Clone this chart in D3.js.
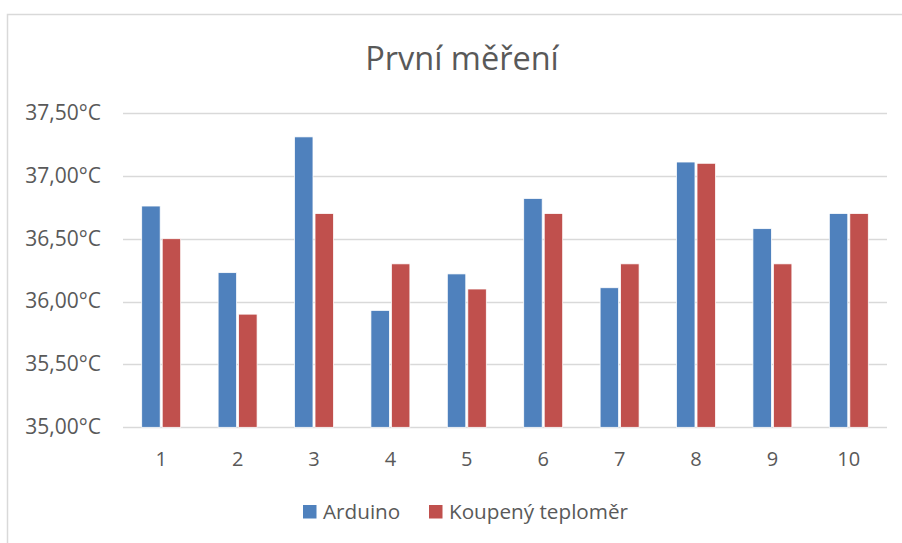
<!DOCTYPE html>
<html>
<head>
<meta charset="utf-8">
<script src="https://cdn.jsdelivr.net/npm/d3@7"></script>
<style>
  html, body { margin: 0; padding: 0; background: #fff; }
  svg { display: block; }
  text { font-family: "Open Sans", "Noto Sans", sans-serif; fill: #595959; }
</style>
</head>
<body>
<svg id="chart" width="902" height="543"></svg>
<script>
const categories = ["1","2","3","4","5","6","7","8","9","10"];
const seriesNames = ["Arduino", "Koupený teploměr"];
const arduino = [36.76, 36.23, 37.31, 35.93, 36.22, 36.82, 36.11, 37.11, 36.58, 36.70];
const koupeny = [36.50, 35.90, 36.70, 36.30, 36.10, 36.70, 36.30, 37.10, 36.30, 36.70];
const yTicks = [35.0, 35.5, 36.0, 36.5, 37.0, 37.5];
const colors = ["#4F81BD", "#C0504D"];
const title = "První měření";

const svg = d3.select("#chart");
const W = 902, H = 543;

// chart frame
svg.append("rect").attr("x", 7.5).attr("y", 14.5).attr("width", W + 10).attr("height", H + 10)
  .attr("fill", "none").attr("stroke", "#D9D9D9").attr("stroke-width", 1.5);

const plot = { left: 123, right: 887, top: 113, bottom: 427.3 };

const x = d3.scaleBand().domain(categories).range([plot.left, plot.right]);
const y = d3.scaleLinear().domain([35, 37.5]).range([plot.bottom, plot.top]);

const fmt = v => d3.format(".2f")(v).replace(".", ",") + "°C";

// gridlines
svg.append("g").selectAll("line").data(yTicks).join("line")
  .attr("x1", plot.left).attr("x2", plot.right)
  .attr("y1", d => Math.round(y(d)) + 0.5).attr("y2", d => Math.round(y(d)) + 0.5)
  .attr("stroke", "#D9D9D9").attr("stroke-width", 1.5);

// y axis labels
const yAxis = d3.axisLeft(y).tickValues(yTicks).tickFormat(fmt).tickSize(0).tickPadding(0);
const gy = svg.append("g").attr("transform", `translate(101,0)`).call(yAxis);
gy.select(".domain").remove();
gy.selectAll("text").style("font-size", "21px").attr("fill", "#595959")
  .style("font-family", '"Open Sans", sans-serif').attr("dy", "0.3em");

// x axis labels
const xAxis = d3.axisBottom(x).tickSize(0).tickPadding(0);
const gx = svg.append("g").attr("transform", `translate(0,${plot.bottom + 24})`).call(xAxis);
gx.select(".domain").remove();
gx.selectAll("text").style("font-size", "20px").attr("fill", "#595959")
  .style("font-family", '"Open Sans", sans-serif').attr("dy", "0.71em");

// bars
const data = categories.map((c, i) => ({ cat: c, vals: [arduino[i], koupeny[i]] }));
const bw = x.bandwidth();
const xSub = d3.scaleBand().domain([0, 1]).range([bw * 0.245, bw * 0.755]).paddingInner(0.1);

const groups = svg.append("g").selectAll("g").data(data).join("g")
  .attr("transform", d => `translate(${x(d.cat)},0)`);
groups.selectAll("rect").data(d => d.vals.map((v, k) => ({ v, k }))).join("rect")
  .attr("x", d => xSub(d.k))
  .attr("width", xSub.bandwidth())
  .attr("y", d => y(d.v))
  .attr("height", d => y(35) - y(d.v))
  .attr("fill", d => colors[d.k])
  .attr("stroke", "#fff").attr("stroke-width", 0.75);

// title
svg.append("text").attr("x", 462).attr("y", 70).attr("text-anchor", "middle")
  .style("font-size", "32.5px").text(title);

// legend
const legendItems = [
  { name: seriesNames[0], color: colors[0], x: 303 },
  { name: seriesNames[1], color: colors[1], x: 429 }
];
const lg = svg.append("g");
legendItems.forEach(it => {
  lg.append("rect").attr("x", it.x).attr("y", 505).attr("width", 13.5).attr("height", 13.5).attr("fill", it.color);
  lg.append("text").attr("x", it.x + 20).attr("y", 519).style("font-size", "20.7px").text(it.name);
});
</script>
</body>
</html>
